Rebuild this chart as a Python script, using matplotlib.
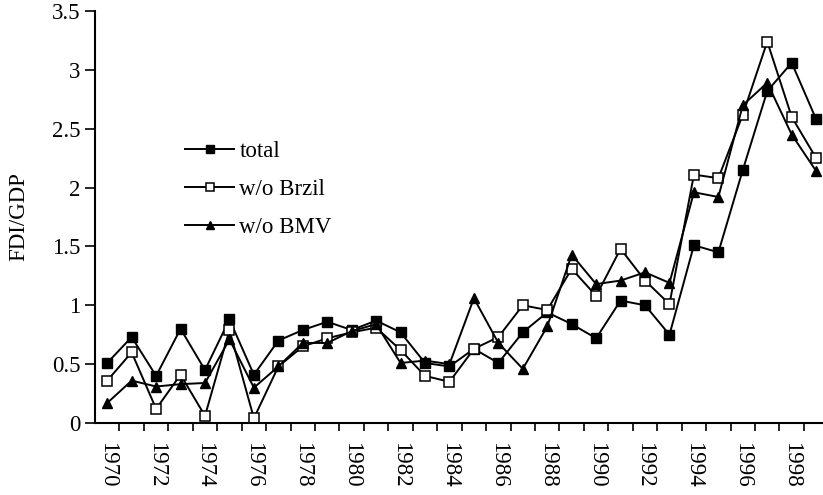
import numpy as np
import matplotlib.pyplot as plt

# FDI/GDP by year
years = np.arange(1970, 2000)
total = [0.51, 0.73, 0.40, 0.80, 0.45, 0.88, 0.41, 0.70, 0.79, 0.86,
         0.79, 0.87, 0.77, 0.51, 0.48, 0.63, 0.51, 0.77, 0.94, 0.84,
         0.72, 1.04, 1.00, 0.75, 1.51, 1.45, 2.15, 2.82, 3.06, 2.58]
wo_brazil = [0.36, 0.60, 0.12, 0.41, 0.06, 0.79, 0.04, 0.48, 0.65, 0.72,
             0.77, 0.81, 0.62, 0.40, 0.35, 0.63, 0.73, 1.00, 0.96, 1.31,
             1.08, 1.48, 1.21, 1.01, 2.11, 2.08, 2.62, 3.24, 2.60, 2.25]
wo_bmv = [0.17, 0.36, 0.31, 0.33, 0.34, 0.71, 0.30, 0.48, 0.68, 0.68,
          0.78, 0.84, 0.51, 0.53, 0.50, 1.06, 0.68, 0.46, 0.82, 1.43,
          1.18, 1.21, 1.28, 1.19, 1.96, 1.92, 2.70, 2.89, 2.45, 2.14]
labels = ["total", "w/o Brzil", "w/o BMV"]

plt.rcParams["font.family"] = "Liberation Serif"
plt.rcParams["font.size"] = 16.5

fig = plt.figure(figsize=(8.23, 4.95), dpi=100)
ax = fig.add_axes([95 / 823, 72 / 495, 1 - 95 / 823, 412 / 495])

ax.plot(years, total, color="black", linewidth=1.4, marker="s", markersize=6.5,
        markerfacecolor="black", label=labels[0])
ax.plot(years, wo_brazil, color="black", linewidth=1.4, marker="s", markersize=6.5,
        markerfacecolor="white", markeredgewidth=1.1, label=labels[1])
ax.plot(years, wo_bmv, color="black", linewidth=1.4, marker="^", markersize=7,
        markerfacecolor="black", label=labels[2])

ax.set_xlim(1969.5, 1999.28)
ax.set_ylim(0, 3.5)
ax.set_yticks(np.arange(0, 3.51, 0.5))
ax.set_yticklabels(["0", "0.5", "1", "1.5", "2", "2.5", "3", "3.5"])

# tick marks between categories, labels every other year
ax.set_xticks(np.arange(1970.5, 1999.5, 1))
ax.set_xticklabels([])
ax.set_xticks(years[::2], minor=True)
ax.set_xticklabels([str(y) for y in years[::2]], minor=True, rotation=-90)
ax.tick_params(axis="x", which="major", direction="out", length=6, width=1.2)
ax.tick_params(axis="x", which="minor", length=0, pad=14)
ax.tick_params(axis="y", direction="out", length=7, width=1.2)

for s in ["top", "right"]:
    ax.spines[s].set_visible(False)
for s in ["left", "bottom"]:
    ax.spines[s].set_linewidth(1.5)

ax.set_ylabel("FDI/GDP", labelpad=16)

ax.legend(loc="upper left", bbox_to_anchor=(185 / 823, 1 - 141 / 495),
          bbox_transform=fig.transFigure, frameon=False, borderpad=0,
          borderaxespad=0, handlelength=2.15, handletextpad=0.22,
          labelspacing=0.74, markerscale=0.85)

fig.savefig("out.png", dpi=100)
